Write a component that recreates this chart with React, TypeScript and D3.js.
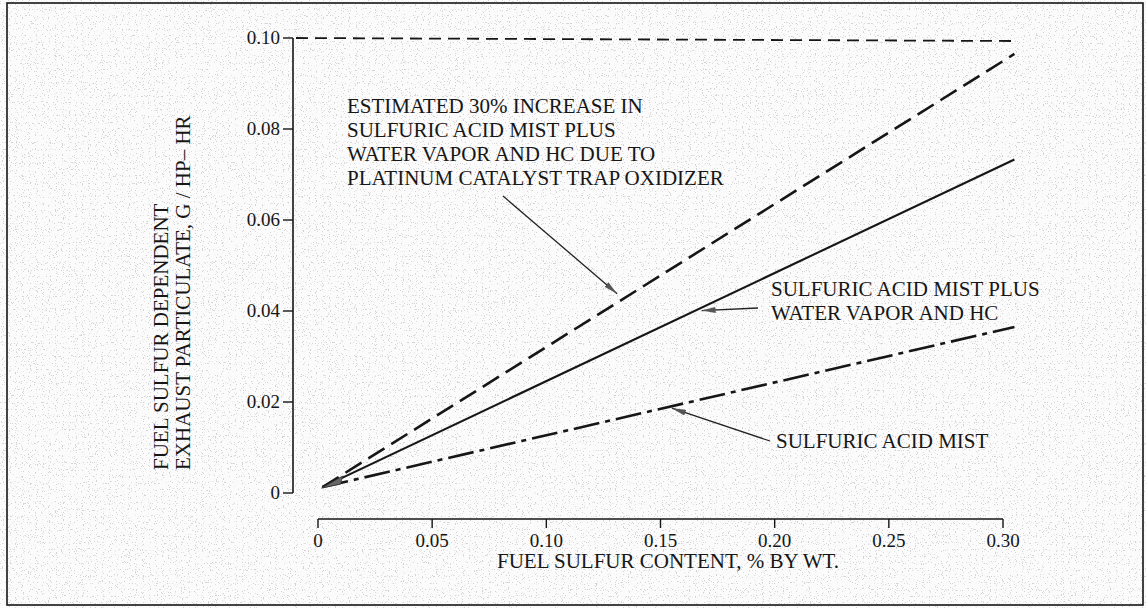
import React from 'react';
import * as d3 from 'd3';

// fuel sulfur content, % by wt (line end points)
const sulfurX = [0.002, 0.305];
// particulate, g/hp-hr
const trapY = [0.0013, 0.0965];
const acidPlusY = [0.0013, 0.0733];
const acidY = [0.0013, 0.0365];
const topLimit = 0.1;

const xTicks = [0, 0.05, 0.1, 0.15, 0.2, 0.25, 0.3];
const xTickLabels = ['0', '0.05', '0.10', '0.15', '0.20', '0.25', '0.30'];
const yTicks = [0, 0.02, 0.04, 0.06, 0.08, 0.1];
const yTickLabels = ['0', '0.02', '0.04', '0.06', '0.08', '0.10'];

const trapNote = [
  'ESTIMATED 30% INCREASE IN',
  'SULFURIC ACID MIST PLUS',
  'WATER VAPOR AND HC DUE TO',
  'PLATINUM CATALYST TRAP OXIDIZER',
];
const acidPlusNote = ['SULFURIC ACID MIST PLUS', 'WATER VAPOR AND HC'];
const acidNote = ['SULFURIC ACID MIST'];

const W = 1146;
const H = 608;
const font = "'Liberation Serif', 'Times New Roman', serif";
const ink = '#161616';
const labelSize = 21;

const App = () => {
  const x = d3.scaleLinear().domain([0, 0.3]).range([318, 1003]);
  const y = d3.scaleLinear().domain([0, 0.1]).range([493, 38]);
  const yAxisX = 293;
  const xAxisY = 519;

  const line = d3
    .line<number>()
    .x((d, i) => x(sulfurX[i]))
    .y((d) => y(d));

  // value on a straight series at a given x
  const at = (vals: number[], v: number) =>
    d3.scaleLinear().domain(sulfurX).range(vals)(v);

  const series = [
    { vals: trapY, dash: '19,8', w: 2.6 },
    { vals: acidPlusY, dash: null, w: 2.1 },
    { vals: acidY, dash: '26,6,5,6', w: 2.6 },
  ];

  const notes = [
    { lines: trapNote, tx: 347, ty: 113, from: [503, 196], tip: [x(0.131), y(at(trapY, 0.131)) - 9] },
    { lines: acidPlusNote, tx: 771, ty: 296, from: [758, 308], tip: [x(0.168), y(at(acidPlusY, 0.168)) + 3] },
    { lines: acidNote, tx: 776, ty: 448, from: [770, 441], tip: [x(0.155), y(at(acidY, 0.155)) + 2] },
  ];

  const ox = x(sulfurX[0]);
  const oy = y(trapY[0]);

  return (
    <svg width={W} height={H} style={{ position: 'fixed', left: 0, top: 0 }}>
      <defs>
        <filter id="grain" x="0" y="0" width="100%" height="100%">
          <feTurbulence type="fractalNoise" baseFrequency="0.85" numOctaves="1" seed="7" />
          <feColorMatrix
            type="matrix"
            values="0 0 0 0 0.45  0 0 0 0 0.45  0 0 0 0 0.45  14 0 0 0 -8.6"
          />
        </filter>
        <marker
          id="head"
          viewBox="0 0 14 6"
          refX="14"
          refY="3"
          markerWidth="14"
          markerHeight="6"
          markerUnits="userSpaceOnUse"
          orient="auto"
        >
          <path d="M0,0 L14,3 L0,6 z" fill="#555" />
        </marker>
      </defs>

      <rect width={W} height={H} fill="#fbfbfb" />
      <rect width={W} height={H} filter="url(#grain)" opacity={0.55} />
      <rect x={7} y={3} width={1136} height={602} fill="none" stroke={ink} strokeWidth={1.6} />

      {/* y axis */}
      <line x1={yAxisX} x2={yAxisX} y1={y(0.1)} y2={y(0)} stroke={ink} strokeWidth={1.6} />
      {yTicks.map((t, i) => (
        <g key={t}>
          <line x1={yAxisX - 10} x2={yAxisX} y1={y(t)} y2={y(t)} stroke={ink} strokeWidth={1.4} />
          <text
            x={yAxisX - 13}
            y={y(t) + 6}
            textAnchor="end"
            fontFamily={font}
            fontSize={19}
            fill={ink}
          >
            {yTickLabels[i]}
          </text>
        </g>
      ))}
      <path
        d={d3.line()([
          [yAxisX + 3, y(topLimit)],
          [x(sulfurX[1]), y(topLimit) + 3],
        ])!}
        stroke={ink}
        strokeWidth={1.8}
        strokeDasharray="12,7"
        fill="none"
      />

      {/* x axis */}
      <line x1={x(0)} x2={x(0.3)} y1={xAxisY} y2={xAxisY} stroke={ink} strokeWidth={1.6} />
      {xTicks.map((t, i) => (
        <g key={t}>
          <line x1={x(t)} x2={x(t)} y1={xAxisY} y2={xAxisY + 9} stroke={ink} strokeWidth={1.4} />
          <text x={x(t)} y={547} textAnchor="middle" fontFamily={font} fontSize={19} fill={ink}>
            {xTickLabels[i]}
          </text>
        </g>
      ))}
      <text x={497} y={568} fontFamily={font} fontSize={labelSize} fill={ink}>
        FUEL SULFUR CONTENT, % BY WT.
      </text>

      <g transform="translate(168,470) rotate(-90)">
        <text x={0} y={0} fontFamily={font} fontSize={labelSize} fill={ink}>
          FUEL SULFUR DEPENDENT
        </text>
        <text x={0} y={22} fontFamily={font} fontSize={labelSize} fill={ink}>
          EXHAUST PARTICULATE, G / HP– HR
        </text>
      </g>

      {/* series */}
      {series.map((s, i) => (
        <path
          key={i}
          d={line(s.vals)!}
          fill="none"
          stroke={ink}
          strokeWidth={s.w}
          strokeDasharray={s.dash ?? undefined}
        />
      ))}
      <path
        d={`M${ox - 1},${oy + 1} L${ox + 20},${oy - 11} L${ox + 18},${oy - 3} z`}
        fill="#666"
        stroke="#333"
        strokeWidth={0.8}
      />

      {/* annotations */}
      {notes.map((n, i) => (
        <g key={i}>
          {n.lines.map((l, j) => (
            <text
              key={j}
              x={n.tx}
              y={n.ty + j * 24}
              fontFamily={font}
              fontSize={labelSize}
              fill={ink}
            >
              {l}
            </text>
          ))}
          <line
            x1={n.from[0]}
            y1={n.from[1]}
            x2={n.tip[0]}
            y2={n.tip[1]}
            stroke="#222"
            strokeWidth={1.3}
            markerEnd="url(#head)"
          />
        </g>
      ))}
    </svg>
  );
};

export default App;
